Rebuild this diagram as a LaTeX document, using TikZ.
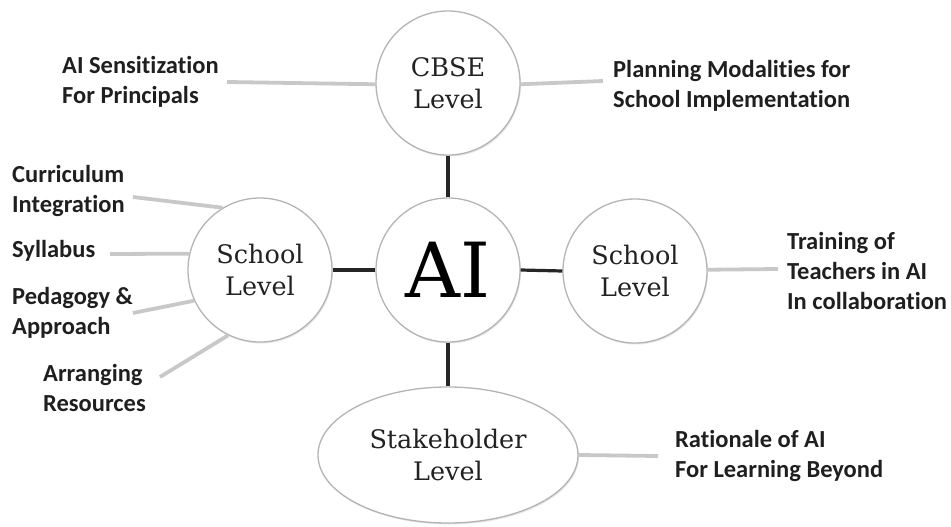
\documentclass[tikz,border=0pt]{standalone}
\usepackage{fontspec}
\setmainfont{Carlito}
\newfontfamily\labfont[Ligatures=CommonOff]{Carlito}
\newfontfamily\cirfont{DejaVu Serif}
\usetikzlibrary{shapes.geometric,shadows}
\definecolor{graylink}{HTML}{C8C8C8}
\definecolor{ringcol}{HTML}{B4B4B4}
\definecolor{cirtext}{HTML}{222222}
\begin{document}
\begin{tikzpicture}[x=1pt,y=-1pt,
  ring/.style={circle,draw=ringcol,line width=1.3pt,fill=white,minimum size=144pt,inner sep=0pt,
    align=center,text=cirtext,font=\cirfont\fontsize{25.5}{32}\selectfont,
    drop shadow={opacity=0.2,shadow xshift=1pt,shadow yshift=-1.5pt}},
  oval/.style={ring,ellipse,minimum width=260pt,minimum height=136pt},
  lab/.style={anchor=base west,inner sep=0pt,align=left,text=black!88,
    font=\labfont\bfseries\fontsize{24.5}{30}\selectfont},
  glink/.style={draw=graylink,line width=3.8pt},
  blink/.style={draw=black!85,line width=3.2pt}]
\useasboundingbox[fill=white] (0,0) rectangle (951,527);

\coordinate (ai0) at (448,270);
\coordinate (cb0) at (448,83);
\coordinate (sl0) at (260,270);
\coordinate (sr0) at (635,271);
\coordinate (st0) at (448,455);

\node[ring] (cbse) at (cb0) {CBSE\\Level};
\node[ring,font=\cirfont\fontsize{76}{80}\selectfont,text=black] (ai) at (ai0) {AI};
\node[ring] (sl) at (sl0) {School\\Level};
\node[ring] (sr) at (sr0) {School\\Level};
\node[oval] (stake) at (st0) {Stakeholder\\Level};

% base anchor = baseline of the last line
\node[lab] (sens) at (62,103) {AI Sensitization\\For Principals};
\node[lab] (plan) at (613,107) {Planning Modalities for\\School Implementation};
\node[lab] (curr) at (12,212) {Curriculum\\Integration};
\node[lab] (syl) at (12,257) {Syllabus};
\node[lab] (ped) at (12,334) {Pedagogy \&\\Approach};
\node[lab] (arr) at (43,411) {Arranging\\Resources};
\node[lab] (train) at (787,309) {Training of\\Teachers in AI\\In collaboration};
\node[lab] (rat) at (675,477) {Rationale of AI\\For Learning Beyond};

\coordinate (e1) at (227,82);
\coordinate (e2) at (603,81);
\coordinate (e3) at (133,197);
\coordinate (e4) at (110,254);
\coordinate (e5) at (133,313);
\coordinate (e6) at (160,377);
\coordinate (e7) at (778,269);
\coordinate (e8) at (658,456);

\draw[glink] (e1) -- (cbse.181);
\draw[glink] (cbse.-1) -- (e2);
\draw[glink] (e3) -- (sl.121);
\draw[glink] (e4) -- (sl.167);
\draw[glink] (e5) -- (sl.205);
\draw[glink] (e6) -- (sl.244);
\draw[glink] (sr.1) -- (e7);
\draw[glink] (stake.0) -- (e8);

\draw[blink] (cbse.south) -- (ai.north);
\draw[blink] (ai.west) -- (sl.east);
\draw[blink] (ai.east) -- (sr.west);
\draw[blink] (ai.south) -- (stake.north);
\end{tikzpicture}
\end{document}
